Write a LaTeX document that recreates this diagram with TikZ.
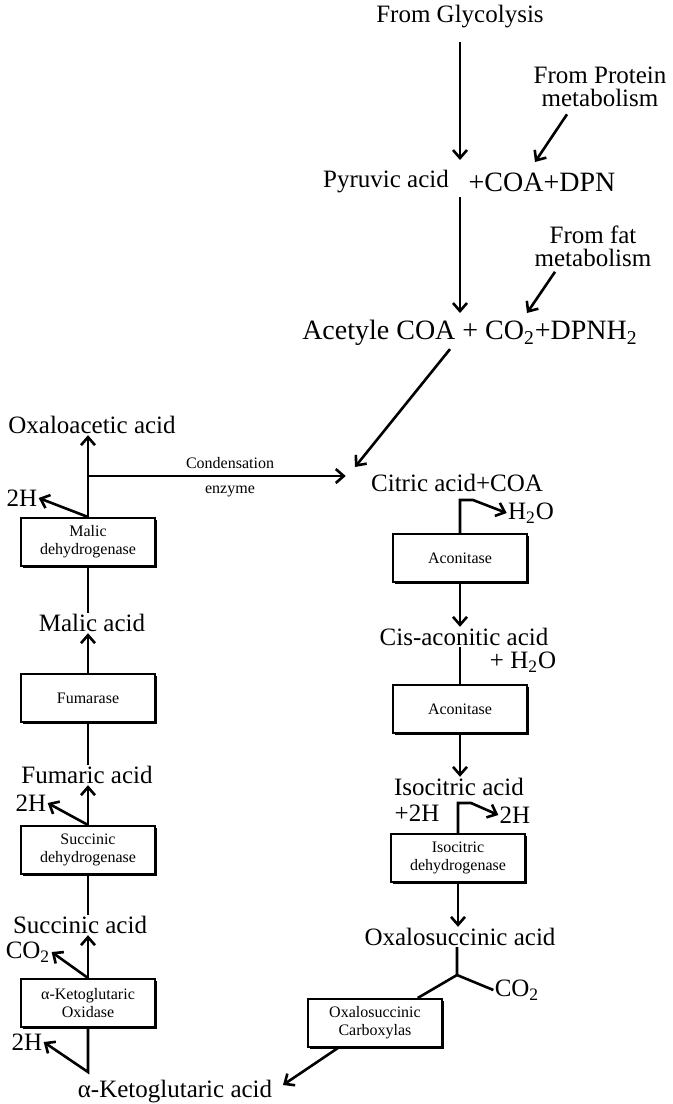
\documentclass[tikz,border=0pt]{standalone}
\usepackage{fontspec}
\setmainfont{Liberation Serif}
\usetikzlibrary{arrows.meta}
\usetikzlibrary{calc}
\usetikzlibrary{shadows}

\begin{document}
\begin{tikzpicture}[x=0.5pt, y=-0.5pt,
    every node/.style={font=\fontsize{12.5}{11.5}\selectfont, inner sep=0.5pt, align=center},
    arr/.style={-{Straight Barb[length=4pt, width=7pt]}, line width=1.3pt},
    ln/.style={line width=1.3pt},
    enz/.style={draw, line width=1pt, fill=white, minimum width=67pt, minimum height=24pt,
      font=\fontsize{8}{9}\selectfont,
      drop shadow={shadow xshift=1.2pt, shadow yshift=-1.2pt, fill=black, opacity=1}}]

  \useasboundingbox (0,0) rectangle (673,1104);

  % top: feeding into acetyl COA
  \node (glyc) at (460,17) {From Glycolysis};
  \node (prot) at (600,87) {From Protein\\metabolism};
  \node (pyr) at (386,182) {Pyruvic acid};
  \node[font=\fontsize{14}{14}\selectfont] (coadpn) at (542,182) {+COA+DPN};
  \node (fat) at (593,246) {From fat\\metabolism};
  \node[font=\fontsize{14}{14}\selectfont] (acetyl) at (470,333) {Acetyle COA + CO\textsubscript{2}+DPNH\textsubscript{2}};

  \coordinate (pyrtop) at (460,160);
  \coordinate (pyrbot) at (460,197);
  \coordinate (acettop) at (460,313);
  \coordinate (protin) at (535,162);
  \coordinate (fatin) at (527,313);

  \draw[arr, shorten <=6pt] (glyc) -- (pyrtop);
  \draw[arr] (pyrbot) -- (acettop);
  \draw[arr] ($(prot.south)+(-33,6)$) -- (protin);
  \draw[arr] ($(fat.south)+(-38,4)$) -- (fatin);

  % right column
  \node (citric) at (457,483) {Citric acid+COA};
  \node (h2oa) at (531,513) {H\textsubscript{2}O};
  \node[enz] (acon1) at (460,558) {Aconitase};
  \node (cisacon) at (464,637) {Cis-aconitic acid};
  \node (h2ob) at (523,662) {+ H\textsubscript{2}O};
  \node[enz] (acon2) at (460,709) {Aconitase};
  \node (isocit) at (459,787) {Isocitric acid};
  \node (plustwoh) at (417,813) {+2H};
  \node (twohr) at (515,815) {2H};
  \node[enz] (isodh) at (458,858) {Isocitric\\dehydrogenase};
  \node (oxsucc) at (460,937) {Oxalosuccinic acid};
  \node (co2r) at (517,990) {CO\textsubscript{2}};
  \node[enz] (oxcarb) at (375,1023) {Oxalosuccinic\\Carboxylas};

  \coordinate (citin) at (355,467);
  \coordinate (br) at (457,975);
  \coordinate (ketoin) at (283,1085);

  \draw[arr] ($(acetyl.south)+(-20,2)$) -- (citin);
  \draw[arr] (acon1.north) -- ++(0,-33) -- ++(13,0) -- (h2oa.west);
  \draw[arr] (acon1.south) -- (acon1.south |- cisacon.north);
  \draw[ln] (acon2.north |- cisacon.south) -- (acon2.north);
  \draw[arr] (acon2.south) -- (acon2.south |- isocit.north);
  \draw[arr] (isodh.north) -- ++(0,-30) -- ++(13,0) -- (twohr.west);
  \draw[arr] (isodh.south) -- (isodh.south |- oxsucc.north);
  \draw[ln] (oxsucc.south -| br) -- (br) -- (co2r.west);
  \draw[ln] (br) -- (oxcarb);
  \draw[arr] (oxcarb) -- (ketoin);

  % left column
  \node (oxalo) at (92,425) {Oxaloacetic acid};
  \node[font=\fontsize{8}{12.5}\selectfont] (cond) at (230,477) {Condensation\\enzyme};
  \node (twoha) at (22,498) {2H};
  \node[enz] (malicdh) at (88,542) {Malic\\dehydrogenase};
  \node (malic) at (92,623) {Malic acid};
  \node[enz] (fum) at (88,698) {Fumarase};
  \node (fumaric) at (87,775) {Fumaric acid};
  \node (twohb) at (31,803) {2H};
  \node[enz] (succdh) at (88,850) {Succinic\\dehydrogenase};
  \node (succ) at (80,925) {Succinic acid};
  \node (co2l) at (28,952) {CO\textsubscript{2}};
  \node[enz] (ketoox) at (88,1003) {α-Ketoglutaric\\Oxidase};
  \node (twohc) at (27,1042) {2H};
  \node (keto) at (175,1092) {α-Ketoglutaric acid};

  \coordinate (cj) at (88,476);
  \coordinate (kbend) at (88,1072);

  \draw[arr] (malicdh.north) -- (malicdh.north |- oxalo.south);
  \draw[arr, shorten >=12pt] (cj) -- (cj -| citric.west);
  \draw[arr] (malicdh.north) -- (twoha.east);
  \draw[ln] (malicdh.south) -- (malicdh.south |- malic.north);
  \draw[arr] (fum.north) -- (fum.north |- malic.south);
  \draw[ln] (fum.south) -- (fum.south |- fumaric.north);
  \draw[arr] (succdh.north) -- (succdh.north |- fumaric.south);
  \draw[arr] (succdh.north) -- (twohb.east);
  \draw[ln] (succdh.south) -- (succdh.south |- succ.north);
  \draw[arr] (ketoox.north) -- (ketoox.north |- succ.south);
  \draw[arr] (ketoox.north) -- (co2l.east);
  \draw[arr] (ketoox.south) -- (kbend) -- (twohc.east);

\end{tikzpicture}
\end{document}
